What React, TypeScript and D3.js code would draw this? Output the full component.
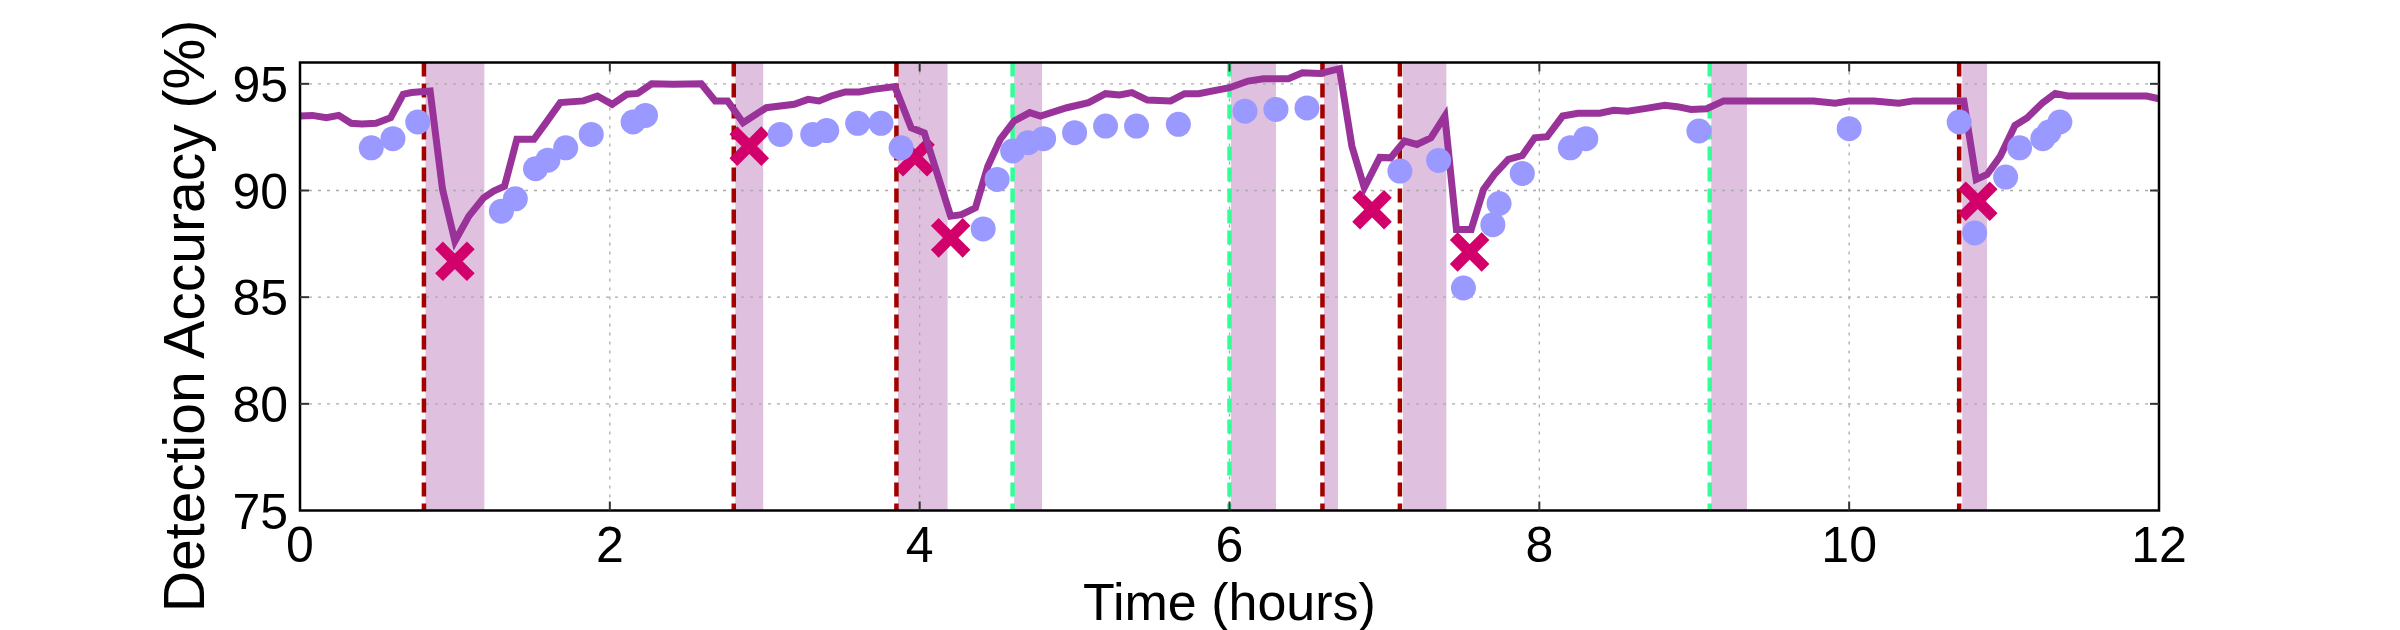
import React, { useEffect, useRef } from "react";
import * as d3 from "d3";

// accuracy over time (purple line)
const lineHours = [0, 0.08, 0.17, 0.25, 0.33, 0.4, 0.49, 0.585, 0.666, 0.72, 0.84, 0.92, 1.0, 1.09, 1.185, 1.25, 1.32, 1.4, 1.51, 1.58, 1.68, 1.83, 1.92, 2.015, 2.11, 2.18, 2.27, 2.41, 2.59, 2.68, 2.76, 2.86, 3.01, 3.19, 3.28, 3.35, 3.43, 3.52, 3.61, 3.7, 3.84, 3.945, 4.03, 4.2, 4.27, 4.36, 4.44, 4.52, 4.61, 4.71, 4.78, 4.95, 5.09, 5.2, 5.29, 5.37, 5.47, 5.62, 5.71, 5.8, 6.0, 6.12, 6.22, 6.38, 6.47, 6.585, 6.71, 6.79, 6.87, 6.97, 7.04, 7.13, 7.21, 7.3, 7.39, 7.465, 7.56, 7.64, 7.71, 7.8, 7.89, 7.97, 8.05, 8.15, 8.25, 8.39, 8.48, 8.57, 8.69, 8.81, 8.89, 8.98, 9.08, 9.19, 9.38, 9.77, 9.91, 10.0, 10.16, 10.32, 10.415, 10.74, 10.82, 10.89, 10.975, 11.07, 11.15, 11.25, 11.33, 11.41, 11.92, 12.0];
const lineAcc = [93.49, 93.52, 93.41, 93.52, 93.15, 93.12, 93.15, 93.41, 94.51, 94.59, 94.66, 90.05, 87.62, 88.8, 89.66, 89.97, 90.2, 92.4, 92.4, 93.1, 94.12, 94.2, 94.43, 94.04, 94.51, 94.55, 95.0, 94.98, 95.0, 94.2, 94.2, 93.18, 93.88, 94.04, 94.27, 94.2, 94.43, 94.62, 94.62, 94.74, 94.87, 92.94, 92.7, 88.8, 88.87, 89.19, 91.14, 92.4, 93.26, 93.65, 93.49, 93.88, 94.12, 94.54, 94.48, 94.59, 94.24, 94.2, 94.54, 94.54, 94.82, 95.13, 95.24, 95.24, 95.52, 95.49, 95.71, 92.08, 90.13, 91.55, 91.53, 92.32, 92.16, 92.47, 93.49, 88.17, 88.17, 90.05, 90.75, 91.46, 91.64, 92.47, 92.52, 93.49, 93.62, 93.62, 93.76, 93.72, 93.85, 93.99, 93.93, 93.8, 93.83, 94.2, 94.2, 94.2, 94.09, 94.2, 94.2, 94.09, 94.2, 94.2, 90.52, 90.75, 91.6, 93.05, 93.41, 94.12, 94.55, 94.43, 94.43, 94.3];

// blue dots
const dotHours = [0.46, 0.6, 0.76, 1.3, 1.39, 1.52, 1.6, 1.715, 1.88, 2.15, 2.23, 3.1, 3.31, 3.4, 3.6, 3.75, 3.88, 4.41, 4.5, 4.6, 4.7, 4.8, 5.0, 5.2, 5.4, 5.67, 6.1, 6.3, 6.5, 7.1, 7.35, 7.51, 7.7, 7.74, 7.89, 8.2, 8.3, 9.03, 10.0, 10.71, 10.81, 11.01, 11.1, 11.25, 11.29, 11.36];
const dotAcc = [92.0, 92.43, 93.21, 89.03, 89.61, 91.02, 91.42, 92.0, 92.63, 93.21, 93.52, 92.63, 92.63, 92.81, 93.15, 93.15, 92.0, 88.2, 90.52, 91.85, 92.24, 92.43, 92.71, 93.02, 93.02, 93.1, 93.72, 93.8, 93.87, 90.91, 91.41, 85.43, 88.4, 89.39, 90.8, 92.0, 92.43, 92.79, 92.9, 93.21, 88.01, 90.63, 92.0, 92.43, 92.74, 93.21];

// crosses
const crossHours = [1.0, 2.9, 3.97, 4.2, 6.92, 7.55, 10.83];
const crossAcc = [86.68, 92.08, 91.58, 87.78, 89.1, 87.12, 89.5];

// event markers
const redEvents = [0.8, 2.8, 3.85, 6.6, 7.1, 10.71];
const greenEvents = [4.6, 6.0, 9.1];
const spanStart = [0.81, 2.81, 3.86, 4.61, 6.01, 6.61, 7.12, 9.11, 10.73];
const spanEnd = [1.19, 2.99, 4.18, 4.79, 6.3, 6.7, 7.4, 9.34, 10.89];

const xTicks = [0, 2, 4, 6, 8, 10, 12];
const yTicks = [75, 80, 85, 90, 95];

export default function App() {
  const ref = useRef<SVGSVGElement>(null);

  useEffect(() => {
    const width = 2400;
    const height = 630;
    const left = 300, right = 2159, top = 62.5, bottom = 510.5;
    const font = "'Liberation Sans', Arial, Helvetica, sans-serif";

    const svg = d3.select(ref.current);
    svg.selectAll("*").remove();
    svg.attr("width", width).attr("height", height);

    const x = d3.scaleLinear().domain([0, 12]).range([left, right]);
    const y = d3.scaleLinear().domain([75, 96]).range([bottom, top]);

    const g = svg.append("g");

    // shaded spans
    g.selectAll("rect.span")
      .data(spanStart)
      .enter()
      .append("rect")
      .attr("x", (d) => x(d))
      .attr("y", top)
      .attr("width", (d, i) => x(spanEnd[i]) - x(d))
      .attr("height", bottom - top)
      .attr("fill", "#dfc0df");

    // grid
    g.selectAll("line.gy")
      .data(yTicks.slice(1))
      .enter()
      .append("line")
      .attr("x1", left)
      .attr("x2", right)
      .attr("y1", (d) => y(d))
      .attr("y2", (d) => y(d))
      .attr("stroke", "#aaaaaa")
      .attr("stroke-width", 1.3)
      .attr("stroke-dasharray", "3,6");
    g.selectAll("line.gx")
      .data(xTicks.slice(1, -1))
      .enter()
      .append("line")
      .attr("x1", (d) => x(d))
      .attr("x2", (d) => x(d))
      .attr("y1", top)
      .attr("y2", bottom)
      .attr("stroke", "#aaaaaa")
      .attr("stroke-width", 1.3)
      .attr("stroke-dasharray", "3,6");

    // event lines
    function vlines(data: number[], color: string) {
      g.append("g")
        .selectAll("line")
        .data(data)
        .enter()
        .append("line")
        .attr("x1", (d) => x(d))
        .attr("x2", (d) => x(d))
        .attr("y1", top)
        .attr("y2", bottom)
        .attr("stroke", color)
        .attr("stroke-width", 4.5)
        .attr("stroke-dasharray", "14,7");
    }
    vlines(redEvents, "#a30000");
    vlines(greenEvents, "#33ff99");

    // crosses
    const cs = 12;
    const crosses = g.append("g");
    crossHours.forEach((h, i) => {
      const cx = x(h);
      const cy = y(crossAcc[i]);
      crosses
        .append("path")
        .attr("d", `M${cx - cs},${cy - cs}L${cx + cs},${cy + cs}M${cx - cs},${cy + cs}L${cx + cs},${cy - cs}`)
        .attr("stroke", "#d1006a")
        .attr("stroke-width", 11)
        .attr("stroke-linecap", "square")
        .attr("fill", "none");
    });

    // line
    const line = d3
      .line<number>()
      .x((d) => x(d))
      .y((d, i) => y(lineAcc[i]));
    g.append("path")
      .attr("d", line(lineHours))
      .attr("fill", "none")
      .attr("stroke", "#993399")
      .attr("stroke-width", 7)
      .attr("stroke-linejoin", "miter");

    // dots
    g.selectAll("circle")
      .data(dotHours)
      .enter()
      .append("circle")
      .attr("cx", (d) => x(d))
      .attr("cy", (d, i) => y(dotAcc[i]))
      .attr("r", 12.5)
      .attr("fill", "#9999ff");

    // frame
    g.append("rect")
      .attr("x", left)
      .attr("y", top)
      .attr("width", right - left)
      .attr("height", bottom - top)
      .attr("fill", "none")
      .attr("stroke", "#000")
      .attr("stroke-width", 2.5);

    // ticks (inward)
    const tl = 9;
    xTicks.slice(1, -1).forEach((t) => {
      g.append("line").attr("x1", x(t)).attr("x2", x(t)).attr("y1", bottom).attr("y2", bottom - tl).attr("stroke", "#333").attr("stroke-width", 2);
      g.append("line").attr("x1", x(t)).attr("x2", x(t)).attr("y1", top).attr("y2", top + tl).attr("stroke", "#333").attr("stroke-width", 2);
    });
    yTicks.slice(1).forEach((t) => {
      g.append("line").attr("x1", left).attr("x2", left + tl).attr("y1", y(t)).attr("y2", y(t)).attr("stroke", "#333").attr("stroke-width", 2);
      g.append("line").attr("x1", right).attr("x2", right - tl).attr("y1", y(t)).attr("y2", y(t)).attr("stroke", "#333").attr("stroke-width", 2);
    });

    // tick labels
    g.selectAll("text.xt")
      .data(xTicks)
      .enter()
      .append("text")
      .attr("x", (d) => x(d))
      .attr("y", 562)
      .attr("text-anchor", "middle")
      .attr("font-family", font)
      .attr("font-size", 50)
      .text((d) => d);
    g.selectAll("text.yt")
      .data(yTicks)
      .enter()
      .append("text")
      .attr("x", left - 12)
      .attr("y", (d) => y(d) + 18)
      .attr("text-anchor", "end")
      .attr("font-family", font)
      .attr("font-size", 50)
      .text((d) => d);

    // axis labels
    g.append("text")
      .attr("x", (left + right) / 2)
      .attr("y", 620)
      .attr("text-anchor", "middle")
      .attr("font-family", font)
      .attr("font-size", 52)
      .text("Time (hours)");
    g.append("text")
      .attr("transform", "translate(204,316) rotate(-90)")
      .attr("text-anchor", "middle")
      .attr("font-family", font)
      .attr("font-size", 57)
      .text("Detection Accuracy (%)");
  }, []);

  return (
    <div style={{ position: "absolute", left: 0, top: 0 }}>
      <svg ref={ref} style={{ display: "block" }} />
    </div>
  );
}
